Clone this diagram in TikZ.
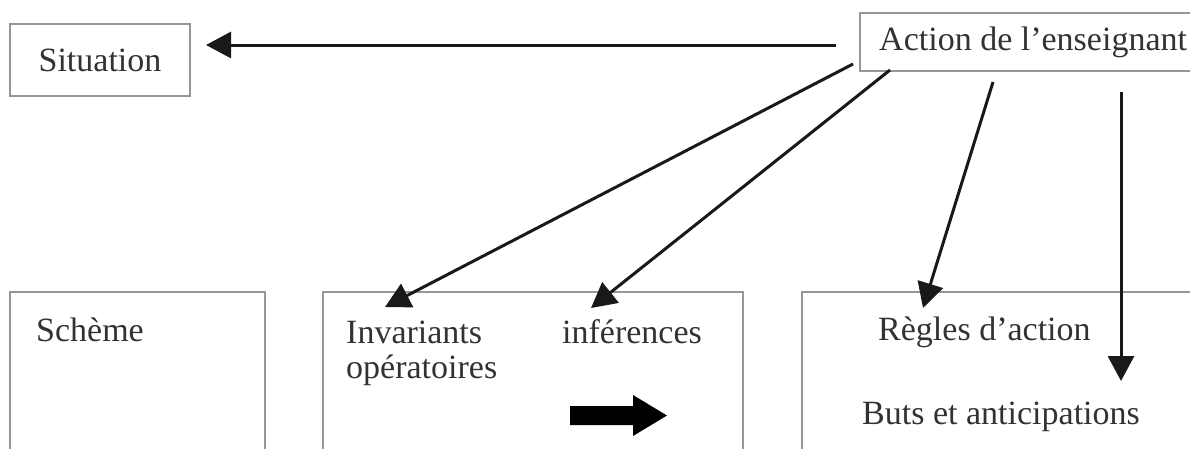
\documentclass[tikz,border=0pt]{standalone}
\usepackage{fontspec}
\setmainfont{Liberation Serif}
\usetikzlibrary{arrows.meta}
\definecolor{boxgray}{RGB}{150,150,150}
\definecolor{txtgray}{RGB}{50,50,50}
\tikzset{
  boxline/.style={draw=boxgray, line width=1.4pt},
  lbl/.style={inner sep=0pt, text=txtgray, font=\fontsize{34}{40}\selectfont},
  conn/.style={draw=black!90, line width=3pt, -{Triangle[length=25pt,width=26pt]}},
}
\begin{document}
\begin{tikzpicture}[x=1pt,y=-1pt]
\useasboundingbox (0,0) rectangle (1190,448);
% boxes
\draw[boxline] (10,24) rectangle (190,96);
\draw[boxline] (1192,13) -- (860,13) -- (860,71) -- (1192,71);
\draw[boxline] (10,450) -- (10,292) -- (265,292) -- (265,450);
\draw[boxline] (323,450) -- (323,292) -- (743,292) -- (743,450);
\draw[boxline] (802,450) -- (802,292) -- (1192,292);
% texts
\node[lbl] (sit) at (100,60) {Situation};
\node[lbl, anchor=west] (act) at (879,42) {Action de l’enseignant};
\node[lbl, anchor=west] (sch) at (36,330) {Schème};
\node[lbl, anchor=west] (inv) at (346,332) {Invariants};
\node[lbl, anchor=west] (ope) at (346,370) {opératoires};
\node[lbl, anchor=west] (inf) at (562,332) {inférences};
\node[lbl, anchor=west] (reg) at (878,332) {Règles d’action};
\node[lbl, anchor=west] (but) at (862,417) {Buts et anticipations};
% connector anchors
\coordinate (s0) at (836,45);
\coordinate (s0e) at (206,45);
\coordinate (s1) at (853,64);
\coordinate (e1) at (385,307);
\coordinate (s2) at (890,70);
\coordinate (e2) at (591,308);
\coordinate (s3) at (993,82);
\coordinate (e3) at (923,308);
\coordinate (s4) at (1121,92);
\coordinate (e4) at (1121,381);
\draw[conn] (s0) -- (s0e);
\draw[conn] (s1) -- (e1);
\draw[conn] (s2) -- (e2);
\draw[conn] (s3) -- (e3);
\draw[conn] (s4) -- (e4);
% fat arrow
\fill[black] (570,406) -- (633,406) -- (633,395) -- (667,415.5) -- (633,436) -- (633,425) -- (570,425) -- cycle;
\end{tikzpicture}
\end{document}
